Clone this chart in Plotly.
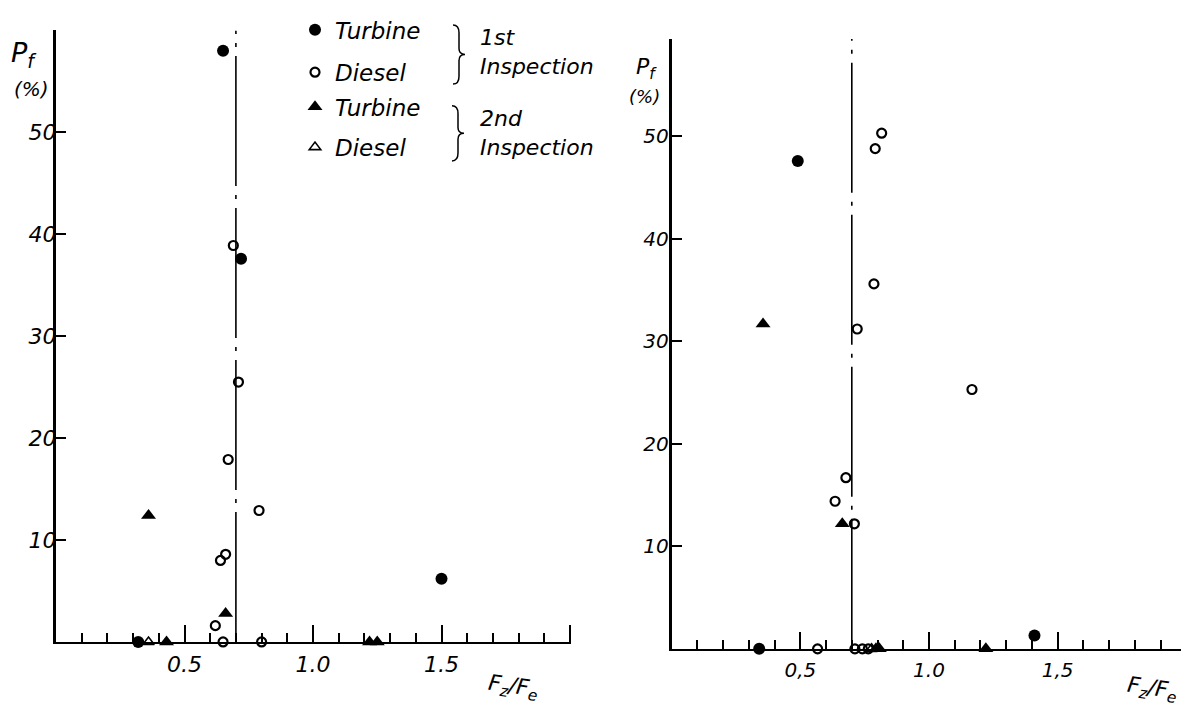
import plotly.graph_objects as go

# page is 1189x709; the browser body adds an 8px margin, so the figure is drawn
# 8px in and sized to fill the rest of the viewport.
PAGE_W, PAGE_H, OFF = 1189, 709, 8
W, H = PAGE_W - OFF, PAGE_H - OFF

# ---------------- data ----------------
# Left panel
L_turb1_x = [0.65, 0.72, 0.32, 1.50]
L_turb1_y = [58.0, 37.6, 0.0, 6.2]
L_dies1_x = [0.69, 0.71, 0.67, 0.79, 0.64, 0.66, 0.62, 0.65, 0.80]
L_dies1_y = [38.9, 25.5, 17.9, 12.9, 8.0, 8.6, 1.6, 0.0, 0.0]
L_turb2_x = [0.36, 0.66, 0.43, 1.22, 1.25]
L_turb2_y = [12.4, 2.8, 0.0, 0.0, 0.0]
L_dies2_x = [0.36]
L_dies2_y = [0.0]

# Right panel
R_turb1_x = [0.49, 0.34, 1.41]
R_turb1_y = [47.6, 0.0, 1.3]
R_dies1_x = [0.816, 0.791, 0.786, 0.721, 1.167, 0.677, 0.635, 0.710, 0.567, 0.712, 0.741, 0.764]
R_dies1_y = [50.3, 48.8, 35.6, 31.2, 25.3, 16.7, 14.4, 12.2, 0.0, 0.0, 0.0, 0.0]
R_turb2_x = [0.355, 0.663, 0.794, 0.807, 1.221]
R_turb2_y = [31.7, 12.2, 0.0, 0.0, 0.0]
R_dies2_x = [0.777]
R_dies2_y = [0.0]

# critical ratio line
boundary_x = [0.7, 0.7]
boundary_y_left = [0, 60]
boundary_y_right = [0, 59.5]

y_ticks = [10, 20, 30, 40, 50]
L_x_ticks = [0.5, 1.0, 1.5, 2.0]
L_x_text = ["0.5", "1.0", "1.5", ""]
R_x_ticks = [0.5, 1.0, 1.5]
R_x_text = ["0,5", "1.0", "1,5"]

FONT = "DejaVu Sans"

def px(x):
    return (x - OFF) / W

def py(y):
    return 1 - (y - OFF) / H

fig = go.Figure()

# dash-dot boundary lines
for xa, ya, yy in (("x", "y", boundary_y_left), ("x2", "y2", boundary_y_right)):
    fig.add_trace(go.Scatter(x=boundary_x, y=yy, xaxis=xa, yaxis=ya, mode="lines",
                             line=dict(color="black", width=1.6, dash="130px,9px,4px,9px"),
                             showlegend=False, hoverinfo="skip"))

styles = {
    "t1": dict(symbol="circle", size=12, color="black", line=dict(width=0)),
    "d1": dict(symbol="circle-open", size=9, color="black", line=dict(width=2.2, color="black")),
    "t2": dict(symbol="triangle-up", size=13, color="black", line=dict(width=0)),
    "d2": dict(symbol="triangle-up-open", size=10, color="black", line=dict(width=1.6, color="black")),
}

series = [
    ("t1", "Turbine", L_turb1_x, L_turb1_y, R_turb1_x, R_turb1_y, "legend"),
    ("d1", "Diesel", L_dies1_x, L_dies1_y, R_dies1_x, R_dies1_y, "legend2"),
    ("t2", "Turbine", L_turb2_x, L_turb2_y, R_turb2_x, R_turb2_y, "legend3"),
    ("d2", "Diesel", L_dies2_x, L_dies2_y, R_dies2_x, R_dies2_y, "legend4"),
]
for key, name, lx, ly, rx, ry, leg in series:
    fig.add_trace(go.Scatter(x=lx, y=ly, xaxis="x", yaxis="y", mode="markers", name=name,
                             marker=styles[key], legend=leg, showlegend=True, cliponaxis=False))
    fig.add_trace(go.Scatter(x=rx, y=ry, xaxis="x2", yaxis="y2", mode="markers", name=name,
                             marker=styles[key], showlegend=False, cliponaxis=False))

# axis geometry (page pixels)
L_x0, L_scale, L_xmax = 56, 257.0, 2.005
L_base, L_yscale, L_ymax = 641, 10.34, 60
R_x0, R_scale = 671.7, 257.3
R_xmax = (PAGE_W - R_x0) / R_scale
R_base, R_yscale, R_ymax = 648, 10.4, 59.5

tickfont_L = dict(family=FONT, size=22, color="black", style="italic")
tickfont_R = dict(family=FONT, size=20, color="black", style="italic")

def xaxis_common(tfont, tv, tt):
    return dict(showline=True, linecolor="black", linewidth=2.2, ticks="inside", ticklen=17,
                tickwidth=1.5, tickcolor="black", tickvals=tv, ticktext=tt,
                minor=dict(ticks="inside", ticklen=9, tickwidth=1.5, tickcolor="black",
                           dtick=0.1, tick0=0, showgrid=False),
                showgrid=False, zeroline=False, tickfont=tfont, ticklabelstandoff=2)

def yaxis_common(tfont, standoff):
    return dict(showline=True, linecolor="black", linewidth=3, ticks="inside", ticklen=10,
                tickwidth=2, tickcolor="black", tickvals=y_ticks, showgrid=False,
                zeroline=False, tickfont=tfont, ticklabelstandoff=standoff)

fig.update_layout(
    width=W, height=H, margin=dict(l=0, r=0, t=0, b=0), autosize=False,
    paper_bgcolor="white", plot_bgcolor="white",
    xaxis=dict(domain=[px(L_x0), px(L_x0 + L_xmax * L_scale)], range=[0, L_xmax], anchor="y",
               **xaxis_common(tickfont_L, L_x_ticks, L_x_text)),
    yaxis=dict(domain=[py(L_base), py(L_base - L_ymax * L_yscale)], range=[0, L_ymax], anchor="x",
               **yaxis_common(tickfont_L, -8)),
    xaxis2=dict(domain=[px(R_x0), 1.0], range=[0, R_xmax], anchor="y2",
                **xaxis_common(tickfont_R, R_x_ticks, R_x_text)),
    yaxis2=dict(domain=[py(R_base), py(R_base - R_ymax * R_yscale)], range=[0, R_ymax], anchor="x2",
                **yaxis_common(tickfont_R, -4)),
    showlegend=True,
)

legfont = dict(family=FONT, size=23, color="black", style="italic")
leg_rows = {"legend": 20, "legend2": 63, "legend3": 98, "legend4": 139}
for lg, yc in leg_rows.items():
    fig.update_layout({lg: dict(x=px(295), y=py(yc), xanchor="left", yanchor="middle",
                                bgcolor="rgba(0,0,0,0)", borderwidth=0, font=legfont,
                                itemclick=False)})

def note(text, x, y, size, xanchor="center", angle=0):
    fig.add_annotation(text=text, x=px(x), y=py(y), xref="paper", yref="paper",
                       xanchor=xanchor, yanchor="middle", showarrow=False, align="left",
                       textangle=angle,
                       font=dict(family=FONT, size=size, color="black", style="italic"))

note("1st<br>Inspection", 478, 42, 22, "left")
note("2nd<br>Inspection", 478, 125, 22, "left")

note("P<sub>f</sub>", 24, 45, 27)
note("(%)", 32, 80, 20)
note("P<sub>f</sub>", 646, 59, 22)
note("(%)", 644, 88, 18)
note("F<sub>z</sub>/F<sub>e</sub>", 513, 687, 22, angle=8)
note("F<sub>z</sub>/F<sub>e</sub>", 1152, 689, 22, angle=8)

def brace_path(xl, yt, yb, w):
    ym = (yt + yb) / 2
    xm = xl + w * 0.5
    pts = [("M", [(xl, yt)]), ("Q", [(xm, yt), (xm, yt + 8)]), ("L", [(xm, ym - 6)]),
           ("Q", [(xm, ym), (xl + w, ym)]), ("Q", [(xm, ym), (xm, ym + 6)]),
           ("L", [(xm, yb - 8)]), ("Q", [(xm, yb), (xl, yb)])]
    s = ""
    for cmd, ps in pts:
        s += cmd + " " + " ".join(f"{px(a):.5f},{py(b):.5f}" for a, b in ps) + " "
    return s.strip()

for xl, yt, yb in ((453, 15, 75), (452, 97, 153)):
    fig.add_shape(type="path", path=brace_path(xl, yt, yb, 12), xref="paper", yref="paper",
                  line=dict(color="black", width=1.5))

fig.write_html("out.html", config={"displayModeBar": False})
